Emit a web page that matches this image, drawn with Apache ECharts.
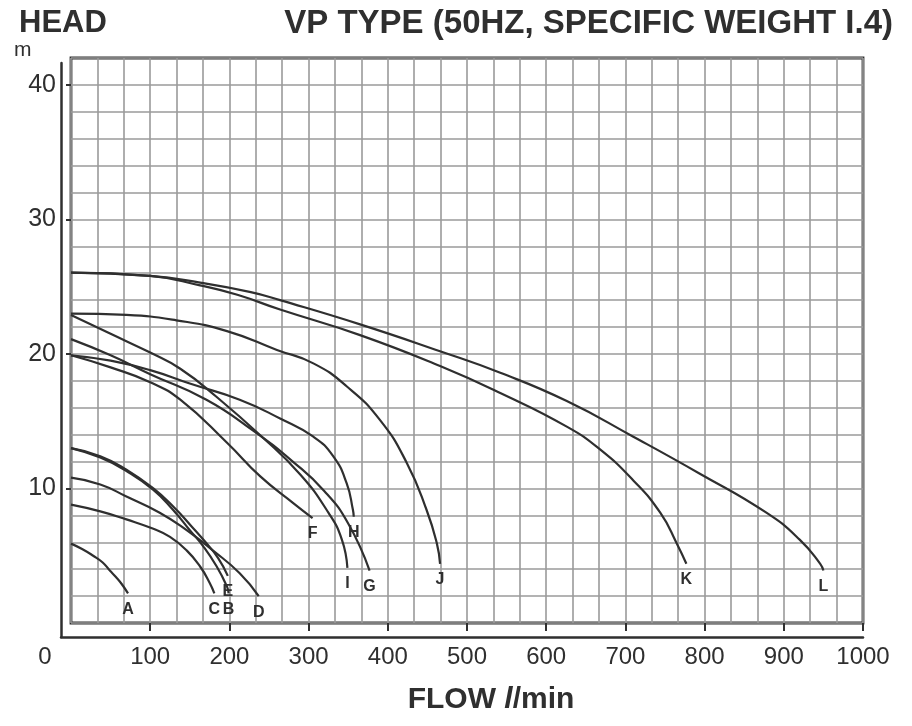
<!DOCTYPE html>
<html><head><meta charset="utf-8">
<script src="https://cdn.jsdelivr.net/npm/echarts@6/dist/echarts.min.js"></script>
<style>html,body{margin:0;padding:0;background:#fff}#c{width:912px;height:726px}</style>
</head><body><div id="c"></div>
<script>
// ---- data (flow l/min, head m) ----
const xTickValues = [100, 200, 300, 400, 500, 600, 700, 800, 900, 1000];
const xLabelValues = [0, 100, 200, 300, 400, 500, 600, 700, 800, 900, 1000];
const yLabelValues = [10, 20, 30, 40];
const curveNames = ['A', 'B', 'C', 'D', 'E', 'F', 'G', 'H', 'I', 'J', 'K', 'L'];

const curveA = [[0,5.9],[14,5.5],[28,5.0],[40,4.5],[49,3.9],[57,3.4],[64,2.9],[72,2.2]];
const curveB = [[0,13.0],[37,12.3],[70,11.3],[104,9.9],[129,8.4],[150,6.9],[167,5.7],[184,4.2],[197,2.7],[199,2.2]];
const curveC = [[0,8.8],[37,8.3],[70,7.7],[104,7.0],[125,6.4],[146,5.4],[163,4.2],[175,3.0],[181,2.2]];
const curveD = [[0,10.8],[37,10.3],[70,9.4],[112,8.2],[146,6.9],[179,5.4],[213,3.7],[237,2.0]];
const curveE = [[0,13.0],[37,12.4],[70,11.4],[104,10.0],[130,8.6],[152,7.2],[170,6.0],[186,4.8],[198,3.5]];
const curveF = [[0,19.9],[50,19.0],[100,17.9],[138,16.6],[197,13.4],[239,10.9],[281,8.9],[305,7.8]];
const curveG = [[0,21.1],[50,19.9],[100,18.5],[171,16.6],[230,14.3],[280,12.0],[320,9.8],[350,7.4],[377,3.9]];
const curveH = [[0,19.9],[50,19.5],[100,18.8],[150,17.8],[213,16.6],[264,15.2],[306,13.85],[331,12.4],[348,10.4],[356,8.4],[357,7.9]];
const curveI = [[0,22.9],[50,21.5],[100,20.1],[138,18.9],[184,16.8],[240,13.9],[290,11.0],[325,8.2],[342,6.2],[349,4.1]];
const curveJ = [[0,23.0],[70,22.9],[133,22.5],[197,21.7],[260,20.3],[306,19.3],[348,17.6],[390,15.1],[424,11.9],[449,8.4],[462,5.9],[466,4.4]];
const curveK = [[0,26.05],[100,25.8],[163,25.1],[210,24.4],[264,23.3],[365,21.4],[466,19.1],[542,17.1],[626,14.6],[668,12.9],[710,10.6],[744,8.2],[765,5.9],[777,4.4]];
const curveL = [[0,26.05],[100,25.8],[163,25.3],[227,24.6],[264,24.0],[365,22.2],[466,20.2],[542,18.6],[626,16.5],[710,13.85],[794,11.1],[878,8.2],[920,6.2],[946,4.4],[950,3.9]];

const curves = [curveA, curveB, curveC, curveD, curveE, curveF, curveG, curveH, curveI, curveJ, curveK, curveL];

// ---- chart ----
const FONT = '"Liberation Sans", Arial, sans-serif';
const INK = '#2f2f2f';
const GRIDC = '#9a9a9a';
const chart = echarts.init(document.getElementById('c'), null, { renderer: 'canvas' });

const series = curves.map((pts, i) => ({
  type: 'line',
  name: curveNames[i],
  xAxisIndex: 0,
  yAxisIndex: 0,
  data: pts,
  smooth: 0.5,
  showSymbol: false,
  lineStyle: { color: INK, width: 2.2 },
  endLabel: {
    show: true,
    formatter: curveNames[i],
    distance: 0,
    align: 'center',
    verticalAlign: 'top',
    padding: [8, 0, 0, 0],
    fontFamily: FONT,
    fontWeight: 'bold',
    fontSize: 16,
    color: INK
  },
  z: 5
}));

chart.setOption({
  animation: false,
  backgroundColor: '#fff',
  title: [
    { text: 'HEAD', left: 19, top: 8, padding: 0,
      textStyle: { fontFamily: FONT, fontWeight: 'bold', fontSize: 31, color: INK } },
    { text: 'VP TYPE (50HZ, SPECIFIC WEIGHT I.4)', right: 19, top: 7, padding: 0,
      textStyle: { fontFamily: FONT, fontWeight: 'bold', fontSize: 33, color: INK } },
    { text: 'm', left: 14, top: 40, padding: 0,
      textStyle: { fontFamily: FONT, fontWeight: 'normal', fontSize: 21, color: INK } },
    { text: '{b|FLOW }{i|l}{b|/min}', left: 491, textAlign: 'center', top: 685, padding: 0,
      textStyle: { fontFamily: FONT, fontWeight: 'bold', fontSize: 30, color: INK,
        rich: {
          b: { fontFamily: FONT, fontWeight: 'bold', fontSize: 30, color: INK },
          i: { fontFamily: FONT, fontWeight: 'bold', fontStyle: 'italic', fontSize: 30, color: INK }
        } } }
  ],
  grid: [
    { left: 71, right: 49, top: 58, bottom: 103, show: true, borderColor: INK, borderWidth: 2.8, backgroundColor: 'transparent' },
    { left: 61, right: 49, top: 63, bottom: 89, show: false }
  ],
  xAxis: [
    { // grid lines
      type: 'value', gridIndex: 0, position: 'bottom', min: 0, max: 1000, interval: 100 / 3,
      axisLine: { show: false }, axisTick: { show: false }, axisLabel: { show: false },
      splitLine: { show: true, lineStyle: { color: GRIDC, width: 1.6 } }
    },
    { // ticks & labels
      type: 'value', gridIndex: 0, position: 'bottom', min: 0, max: 1000, offset: 14,
      axisLine: { show: false },
      axisTick: { show: true, customValues: xTickValues, length: 8, lineStyle: { color: INK, width: 2 } },
      axisLabel: {
        show: true, customValues: xLabelValues, margin: 8,
        fontFamily: FONT, fontSize: 24, color: INK,
        formatter: v => (v === 0 ? '{z|0}' : String(v)),
        rich: { z: { fontFamily: FONT, fontSize: 24, color: INK, padding: [0, 52, 0, 0] } }
      },
      splitLine: { show: false }
    },
    { // outer L frame
      type: 'value', gridIndex: 1, min: 0, max: 1,
      axisLine: { show: true, onZero: false, lineStyle: { color: INK, width: 2.5 } },
      axisTick: { show: false }, axisLabel: { show: false }, splitLine: { show: false }
    }
  ],
  yAxis: [
    {
      type: 'value', gridIndex: 0, position: 'left', min: 0, max: 42, interval: 2,
      axisLine: { show: false }, axisTick: { show: false }, axisLabel: { show: false },
      splitLine: { show: true, lineStyle: { color: GRIDC, width: 1.6 } }
    },
    {
      type: 'value', gridIndex: 0, position: 'left', min: 0, max: 42, offset: 10,
      axisLine: { show: false },
      axisTick: { show: true, customValues: yLabelValues, length: 5, lineStyle: { color: INK, width: 2 } },
      axisLabel: {
        show: true, customValues: yLabelValues, margin: 5,
        fontFamily: FONT, fontSize: 25, color: INK
      },
      splitLine: { show: false }
    },
    {
      type: 'value', gridIndex: 1, min: 0, max: 1,
      axisLine: { show: true, onZero: false, lineStyle: { color: INK, width: 2.5 } },
      axisTick: { show: false }, axisLabel: { show: false }, splitLine: { show: false }
    }
  ],
  series: series
});
</script>
</body></html>
